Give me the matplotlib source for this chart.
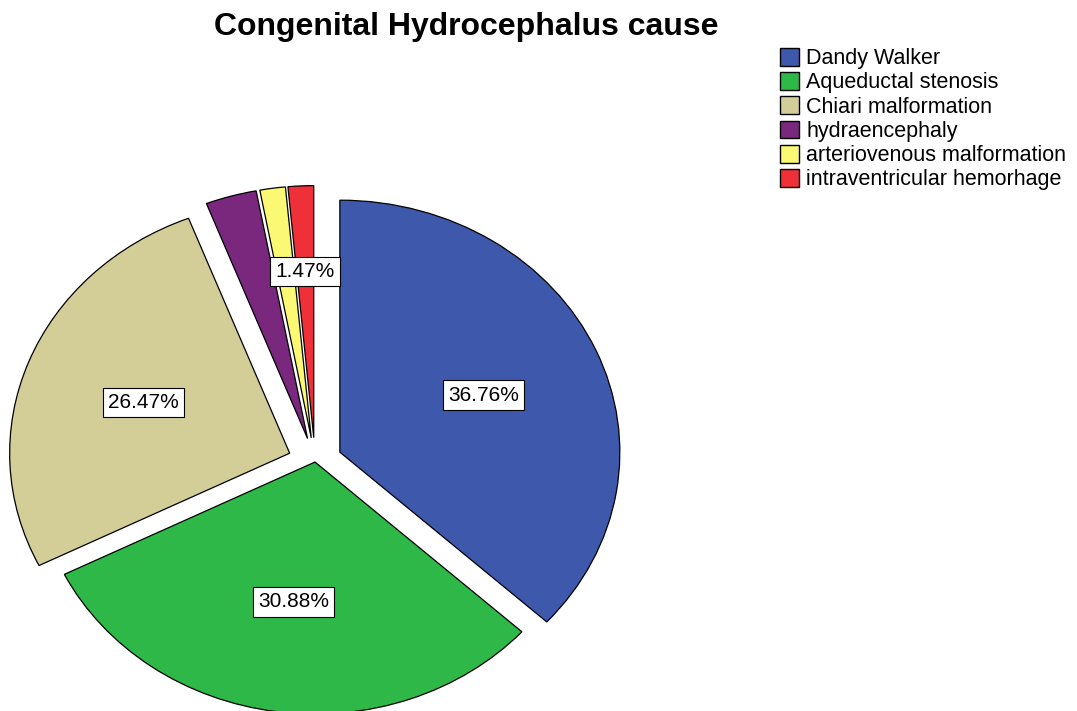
import numpy as np
import matplotlib
matplotlib.use('Agg')
import matplotlib.pyplot as plt
from matplotlib.patches import Patch

plt.rcParams['font.family'] = ['Liberation Sans', 'DejaVu Sans']

# counts per cause (n = 68)
causes = ['Dandy Walker', 'Aqueductal stenosis', 'Chiari malformation',
          'hydraencephaly', 'arteriovenous malformation', 'intraventricular hemorhage']
counts = [25, 21, 18, 2, 1, 1]
colors = ['#3E58AC', '#2EB848', '#D3CE97', '#79287D', '#FBF873', '#EF3038']
explode = [0.097, 0.0, 0.097, 0.097, 0.097, 0.097]
show_label = [True, True, True, False, False, True]

fig = plt.figure(figsize=(10.77, 7.11), dpi=100)
# pie axes, slightly squashed vertically like the original
ax = fig.add_axes([7/1077, -0.0397, 616/1077, 0.7797])

wedges, texts, autotexts = ax.pie(counts, colors=colors, explode=explode,
                                  startangle=90, counterclock=False,
                                  autopct='%1.2f%%', pctdistance=0.56,
                                  wedgeprops=dict(edgecolor='black', linewidth=0.9),
                                  textprops=dict(fontsize=15))
ax.set_aspect('auto')
ax.set_xlim(-1.1, 1.1)
ax.set_ylim(-1.1, 1.1)

for I in range(len(autotexts)):
    t = autotexts[I]
    if not show_label[I]:
        t.set_visible(False)
        continue
    t.set_bbox(dict(facecolor='white', edgecolor='black', linewidth=0.8, pad=3.8))
    if counts[I] == 1:
        # small slice label sits further out
        w = wedges[I]
        ang = np.deg2rad((w.theta1 + w.theta2) / 2)
        t.set_position((w.center[0] + 0.66*np.cos(ang), w.center[1] + 0.66*np.sin(ang)))

fig.text(466/1077, 1 - 27/711, 'Congenital Hydrocephalus cause', fontsize=23,
         fontweight='bold', ha='center', va='center')

handles = [Patch(facecolor=colors[I], edgecolor='black', linewidth=1.0) for I in range(len(causes))]
leg = fig.legend(handles, causes, loc='upper left', bbox_to_anchor=(780/1077, 1 - 48/711),
                 frameon=False, fontsize=15.5, handlelength=0.88, handleheight=0.88,
                 handletextpad=0.35, labelspacing=0.14, borderpad=0, borderaxespad=0)

fig.savefig('out.png', dpi=100)
